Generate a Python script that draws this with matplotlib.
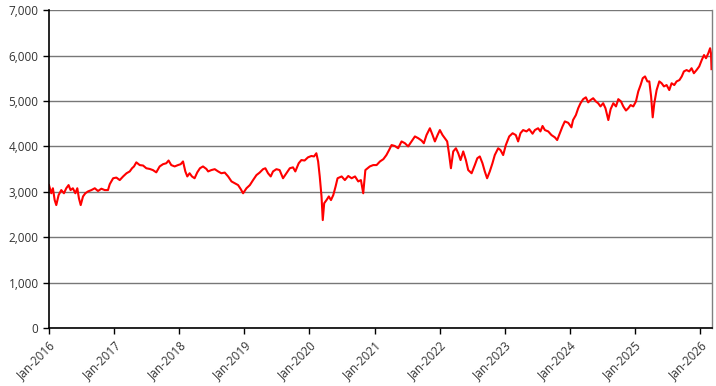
import matplotlib
matplotlib.use("Agg")
import matplotlib.pyplot as plt
import matplotlib.dates as mdates
from matplotlib.ticker import FuncFormatter
import pandas as pd

dates = [
    "2016-01-01", "2016-01-14", "2016-01-23", "2016-02-02", "2016-02-11", "2016-02-24",
    "2016-03-10", "2016-03-25", "2016-04-07", "2016-04-20", "2016-05-01", "2016-05-14",
    "2016-05-28", "2016-06-08", "2016-06-17", "2016-06-27", "2016-07-10", "2016-07-23",
    "2016-08-07", "2016-08-26", "2016-09-14", "2016-10-02", "2016-10-21", "2016-11-09",
    "2016-11-27", "2016-12-07", "2016-12-26", "2017-01-13", "2017-02-01", "2017-02-20",
    "2017-03-11", "2017-03-29", "2017-04-11", "2017-04-22", "2017-05-05", "2017-05-24",
    "2017-06-12", "2017-06-30", "2017-07-19", "2017-08-06", "2017-08-25", "2017-09-13",
    "2017-10-02", "2017-10-20", "2017-11-02", "2017-11-17", "2017-12-06", "2017-12-25",
    "2018-01-09", "2018-01-22", "2018-02-04", "2018-02-15", "2018-02-28", "2018-03-13",
    "2018-03-28", "2018-04-12", "2018-04-27", "2018-05-14", "2018-06-02", "2018-06-12",
    "2018-06-30", "2018-07-19", "2018-08-07", "2018-08-25", "2018-09-13", "2018-10-02",
    "2018-10-21", "2018-11-08", "2018-11-27", "2018-12-12", "2018-12-25", "2019-01-13",
    "2019-02-01", "2019-02-19", "2019-03-10", "2019-03-28", "2019-04-16", "2019-04-29",
    "2019-05-14", "2019-05-29", "2019-06-11", "2019-06-30", "2019-07-18", "2019-08-06",
    "2019-08-25", "2019-09-13", "2019-10-01", "2019-10-14", "2019-11-02", "2019-11-17",
    "2019-12-05", "2019-12-24", "2020-01-12", "2020-01-27", "2020-02-09", "2020-02-19",
    "2020-02-28", "2020-03-09", "2020-03-16", "2020-03-24", "2020-04-06", "2020-04-19",
    "2020-05-01", "2020-05-14", "2020-05-27", "2020-06-07", "2020-06-30", "2020-07-18",
    "2020-08-06", "2020-08-25", "2020-09-13", "2020-10-01", "2020-10-16", "2020-10-29",
    "2020-11-10", "2020-12-05", "2020-12-24", "2021-01-12", "2021-01-31", "2021-02-19",
    "2021-03-08", "2021-03-23", "2021-04-06", "2021-04-24", "2021-05-13", "2021-06-01",
    "2021-06-20", "2021-07-08", "2021-07-27", "2021-08-15", "2021-09-03", "2021-09-21",
    "2021-10-04", "2021-10-19", "2021-11-07", "2021-11-22", "2021-12-05", "2021-12-20",
    "2022-01-02", "2022-01-17", "2022-01-30", "2022-02-12", "2022-02-22", "2022-03-05",
    "2022-03-18", "2022-04-02", "2022-04-15", "2022-04-28", "2022-05-13", "2022-05-28",
    "2022-06-10", "2022-06-29", "2022-07-17", "2022-07-31", "2022-08-14", "2022-08-29",
    "2022-09-11", "2022-09-24", "2022-10-09", "2022-10-24", "2022-11-06", "2022-11-25",
    "2022-12-08", "2022-12-23", "2023-01-07", "2023-01-26", "2023-02-14", "2023-03-04",
    "2023-03-17", "2023-03-30", "2023-04-14", "2023-05-03", "2023-05-18", "2023-06-06",
    "2023-06-19", "2023-07-07", "2023-07-20", "2023-08-01", "2023-08-14", "2023-09-02",
    "2023-09-20", "2023-10-09", "2023-10-22", "2023-11-06", "2023-11-21", "2023-12-04",
    "2023-12-23", "2024-01-10", "2024-01-19", "2024-02-04", "2024-02-17", "2024-03-01",
    "2024-03-16", "2024-03-31", "2024-04-13", "2024-04-26", "2024-05-11", "2024-05-26",
    "2024-06-08", "2024-06-21", "2024-07-06", "2024-07-19", "2024-08-04", "2024-08-17",
    "2024-09-01", "2024-09-16", "2024-09-29", "2024-10-14", "2024-10-27", "2024-11-11",
    "2024-11-24", "2024-12-07", "2024-12-22", "2025-01-06", "2025-01-19", "2025-02-01",
    "2025-02-13", "2025-02-26", "2025-03-11", "2025-03-22", "2025-04-01", "2025-04-10",
    "2025-04-19", "2025-05-02", "2025-05-17", "2025-05-30", "2025-06-12", "2025-06-27",
    "2025-07-12", "2025-07-25", "2025-08-09", "2025-08-22", "2025-09-07", "2025-09-20",
    "2025-10-02", "2025-10-17", "2025-11-01", "2025-11-14", "2025-11-27", "2025-12-12",
    "2025-12-27", "2026-01-10", "2026-01-23", "2026-02-03", "2026-02-16", "2026-02-26",
    "2026-03-03", "2026-03-06",
]

values = [
    3150, 2970, 3080, 2820, 2710, 2930,
    3040, 2970, 3080, 3150, 3040, 3080,
    2970, 3080, 2860, 2710, 2900, 2970,
    3010, 3040, 3080, 3020, 3070, 3040,
    3040, 3170, 3300, 3315, 3260, 3340,
    3410, 3450, 3520, 3560, 3650, 3590,
    3580, 3520, 3505, 3480, 3430, 3560,
    3610, 3630, 3690, 3590, 3560, 3590,
    3610, 3670, 3450, 3340, 3410, 3340,
    3300, 3430, 3520, 3560, 3505, 3450,
    3480, 3500, 3450, 3410, 3425, 3340,
    3230, 3190, 3150, 3060, 2970, 3080,
    3150, 3260, 3370, 3425, 3500, 3520,
    3410, 3340, 3450, 3500, 3480, 3300,
    3410, 3520, 3540, 3450, 3630, 3700,
    3690, 3760, 3790, 3780, 3850, 3670,
    3340, 2900, 2380, 2750, 2820, 2900,
    2820, 2930, 3120, 3300, 3340, 3260,
    3350, 3300, 3340, 3230, 3260, 2970,
    3480, 3560, 3590, 3590, 3670, 3720,
    3810, 3920, 4030, 4010, 3960, 4110,
    4070, 4000, 4110, 4220, 4180, 4130,
    4070, 4250, 4400, 4250, 4110, 4250,
    4360, 4250, 4180, 4110, 3850, 3520,
    3890, 3960, 3850, 3700, 3890, 3700,
    3480, 3410, 3590, 3740, 3780, 3630,
    3450, 3300, 3450, 3630, 3810, 3960,
    3920, 3810, 4030, 4220, 4290, 4250,
    4110, 4290, 4360, 4330, 4380, 4280,
    4360, 4400, 4330, 4450, 4360, 4330,
    4250, 4200, 4140, 4290, 4440, 4550,
    4520, 4420, 4580, 4690, 4840, 4950,
    5040, 5080, 4970, 5020, 5060, 4990,
    4950, 4880, 4950, 4840, 4580, 4820,
    4950, 4880, 5040, 4990, 4880, 4790,
    4840, 4910, 4880, 4990, 5210, 5350,
    5500, 5540, 5430, 5430, 5100, 4640,
    4950, 5240, 5430, 5390, 5320, 5350,
    5240, 5390, 5350, 5430, 5460, 5540,
    5650, 5680, 5650, 5720, 5610, 5680,
    5760, 5900, 6010, 5940, 6050, 6160,
    6050, 5700,
]

y_ticks = [0, 1000, 2000, 3000, 4000, 5000, 6000, 7000]
x_tick_years = list(range(2016, 2027))

x = pd.to_datetime(dates)

fig = plt.figure(figsize=(7.16, 3.86), dpi=100)
ax = fig.add_axes([0.0684, 0.1495, 0.9256, 0.8245])

ax.plot(x, values, color="#FF0000", linewidth=1.5)

ax.set_ylim(0, 7000)
ax.set_yticks(y_ticks)
ax.yaxis.set_major_formatter(FuncFormatter(lambda v, p: f"{v:,.0f}"))
ax.set_xlim(pd.Timestamp("2016-01-01"), pd.Timestamp("2026-03-07"))
ax.set_xticks([pd.Timestamp(f"{yr}-01-01") for yr in x_tick_years])
ax.xaxis.set_major_formatter(mdates.DateFormatter("%b-%Y"))

ax.grid(axis="y", color="#777777", linewidth=1.0)
ax.set_axisbelow(True)

for side in ["left", "bottom"]:
    ax.spines[side].set_color("black")
    ax.spines[side].set_linewidth(1.2)
ax.spines["top"].set_visible(False)
ax.spines["right"].set_color("#808080")
ax.spines["right"].set_linewidth(1.0)

ax.tick_params(axis="both", labelsize=8.5, colors="#333333", length=4, width=1)
ax.tick_params(axis="x", color="black")
ax.tick_params(axis="y", color="black")
for lbl in ax.get_xticklabels():
    lbl.set_rotation(45)
    lbl.set_ha("right")
    lbl.set_rotation_mode("anchor")
    lbl.set_family("Open Sans")
for lbl in ax.get_yticklabels():
    lbl.set_family("Open Sans")

fig.savefig("out.png", dpi=100)
